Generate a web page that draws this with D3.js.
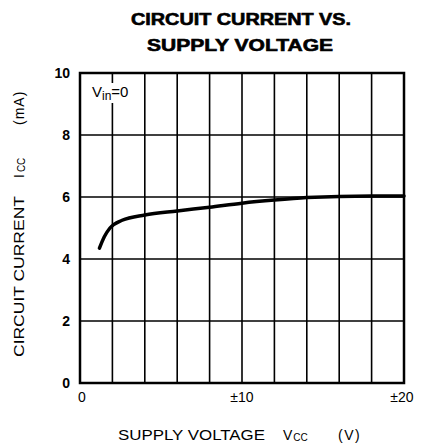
<!DOCTYPE html>
<html>
<head>
<meta charset="utf-8">
<script src="https://cdn.jsdelivr.net/npm/d3@7"></script>
<style>
  body { margin: 0; background: #fff; overflow: hidden; }
  svg { display: block; }
  text { font-family: "Liberation Sans", Arial, sans-serif; fill: #000; }
</style>
</head>
<body>
<div id="chart"></div>
<script>
// Dades llegides del gràfic
const voltage = [1.2, 1.5, 1.85, 2.6, 4, 6, 8, 10, 12, 14, 16, 18, 20];
const current = [4.35, 4.72, 5.0, 5.25, 5.42, 5.55, 5.67, 5.8, 5.9, 5.98, 6.02, 6.03, 6.03];
const xTicks = [0, 10, 20];
const xTickLabels = ["0", "±10", "±20"];
const yTicks = [0, 2, 4, 6, 8, 10];
const xGrid = d3.range(0, 21, 2);

const width = 421, height = 445;
const margin = { top: 73, right: 17, bottom: 62, left: 80 };

const svg = d3.select("#chart").append("svg")
    .attr("width", width)
    .attr("height", height);

// Escales en coordenades absolutes de l'SVG
const x = d3.scaleLinear().domain([0, 20]).range([margin.left, width - margin.right]);
const y = d3.scaleLinear().domain([0, 10]).range([height - margin.bottom, margin.top]);

// Títol (més gruixut amb un petit traç)
svg.append("text")
    .attr("x", 241).attr("y", 25)
    .attr("text-anchor", "middle")
    .attr("font-size", 16).attr("font-weight", "bold")
    .attr("stroke", "#000").attr("stroke-width", 0.6)
    .attr("textLength", 220).attr("lengthAdjust", "spacingAndGlyphs")
    .text("CIRCUIT CURRENT VS.");
svg.append("text")
    .attr("x", 240).attr("y", 51)
    .attr("text-anchor", "middle")
    .attr("font-size", 16).attr("font-weight", "bold")
    .attr("stroke", "#000").attr("stroke-width", 0.6)
    .attr("textLength", 186).attr("lengthAdjust", "spacingAndGlyphs")
    .text("SUPPLY VOLTAGE");

// Graella
svg.append("g")
    .selectAll("line")
    .data(xGrid)
    .join("line")
    .attr("x1", d => x(d)).attr("x2", d => x(d))
    .attr("y1", y(10)).attr("y2", y(0))
    .attr("stroke", "#000").attr("stroke-width", 1.6);

svg.append("g")
    .selectAll("line")
    .data(yTicks)
    .join("line")
    .attr("x1", x(0)).attr("x2", x(20))
    .attr("y1", d => y(d)).attr("y2", d => y(d))
    .attr("stroke", "#000").attr("stroke-width", 1.6);

svg.append("rect")
    .attr("x", x(0)).attr("y", y(10))
    .attr("width", x(20) - x(0)).attr("height", y(0) - y(10))
    .attr("fill", "none").attr("stroke", "#000").attr("stroke-width", 2.5);

// Etiquetes de les marques
svg.append("g")
    .selectAll("text")
    .data(xTicks)
    .join("text")
    .attr("x", (d, i) => x(d) + (i === 0 ? 2 : (i === 2 ? -2 : 0)))
    .attr("y", y(0) + 19)
    .attr("text-anchor", "middle")
    .attr("font-size", 14)
    .text((d, i) => xTickLabels[i]);

svg.append("g")
    .selectAll("text")
    .data(yTicks)
    .join("text")
    .attr("x", x(0) - 10)
    .attr("y", d => y(d) + 5)
    .attr("text-anchor", "end")
    .attr("font-size", 14).attr("font-weight", "bold")
    .text(d => d);

// Corba
const line = d3.line()
    .x((d, i) => x(voltage[i]))
    .y(d => y(d))
    .curve(d3.curveMonotoneX);

svg.append("path")
    .datum(current)
    .attr("d", line)
    .attr("fill", "none")
    .attr("stroke", "#000")
    .attr("stroke-width", 3.5)
    .attr("stroke-linecap", "round");

// Condició, amb fons blanc que talla la graella
svg.append("rect")
    .attr("x", x(0) + 10).attr("y", y(10) + 10).attr("width", 52).attr("height", 20)
    .attr("fill", "#fff");
const cond = svg.append("text")
    .attr("x", x(0) + 12).attr("y", y(10) + 24)
    .attr("font-size", 15);
cond.append("tspan").text("V");
cond.append("tspan").attr("font-size", 12).attr("dy", 3).text("in");
cond.append("tspan").attr("dy", -3).text("=0");

// Etiqueta de l'eix X
svg.append("text")
    .attr("x", 118).attr("y", 440)
    .attr("font-size", 14)
    .attr("textLength", 147).attr("lengthAdjust", "spacingAndGlyphs")
    .text("SUPPLY VOLTAGE");
const vcc = svg.append("text")
    .attr("x", 283).attr("y", 440)
    .attr("font-size", 14);
vcc.append("tspan").text("V");
vcc.append("tspan").attr("font-size", 10).attr("dy", 1).attr("dx", 1).text("CC");
svg.append("text")
    .attr("x", 338).attr("y", 440)
    .attr("font-size", 14)
    .attr("letter-spacing", 1.5)
    .text("(V)");

// Etiqueta de l'eix Y (girada)
svg.append("text")
    .attr("transform", "translate(24, 357) rotate(-90)")
    .attr("font-size", 14)
    .attr("textLength", 161).attr("lengthAdjust", "spacingAndGlyphs")
    .text("CIRCUIT CURRENT");
const icc = svg.append("text")
    .attr("transform", "translate(24, 178) rotate(-90)")
    .attr("font-size", 14);
icc.append("tspan").text("I");
icc.append("tspan").attr("font-size", 10).attr("dy", 1).attr("dx", 2).text("CC");
svg.append("text")
    .attr("transform", "translate(24, 125) rotate(-90)")
    .attr("font-size", 14)
    .attr("letter-spacing", 1)
    .text("(mA)");
</script>
</body>
</html>
